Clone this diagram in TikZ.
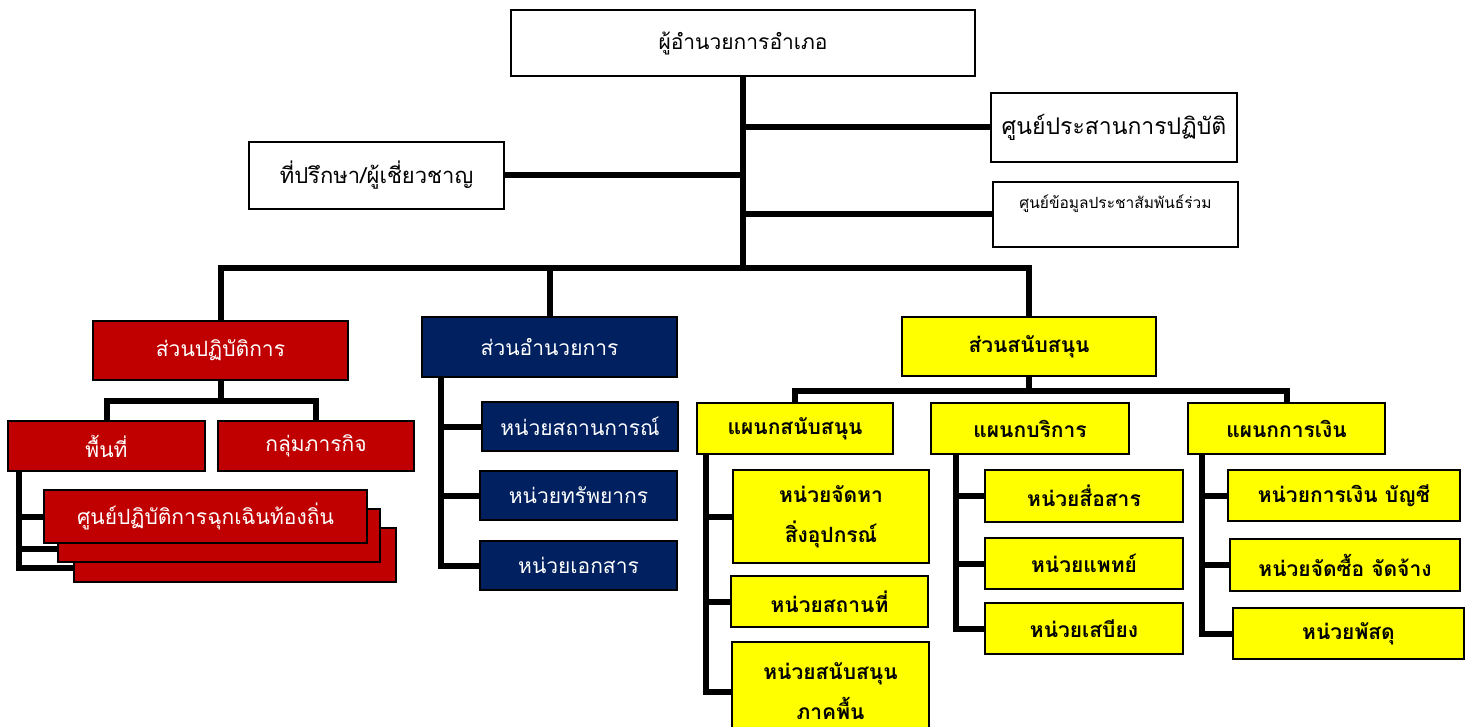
\documentclass[tikz,border=0pt]{standalone}
\usepackage{fontspec}
\newfontfamily\thaifont[Script=Thai]{Loma}
\usetikzlibrary{calc}

\definecolor{opsred}{HTML}{C00000}
\definecolor{adminblue}{HTML}{002060}
\definecolor{suppyellow}{HTML}{FFFF00}

\begin{document}
\begin{tikzpicture}[
        x=1pt, y=-1pt,
        every node/.style={font=\thaifont\fontsize{21}{28}\selectfont},
        box/.style={rectangle, draw, line width=1.6pt, inner sep=2pt, align=center},
        plain/.style={box, fill=white},
        ops/.style={box, fill=opsred, text=white},
        admin/.style={box, fill=adminblue, text=white},
        supp/.style={box, fill=suppyellow, font=\thaifont\bfseries\fontsize{21}{40}\selectfont},
        bus/.style={line width=6pt}
    ]
    \useasboundingbox (0,0) rectangle (1472,727);

    % Director and staff boxes
    \node[plain, minimum width=464, minimum height=66] (director) at (743,43) {ผู้อำนวยการอำเภอ};
    \node[plain, minimum width=246, minimum height=69,
          font=\thaifont\fontsize{23}{28}\selectfont] (coord) at (1114,127.5) {ศูนย์ประสานการปฏิบัติ};
    \node[plain, minimum width=255, minimum height=67,
          font=\thaifont\fontsize{22}{28}\selectfont] (advisor) at (376.5,175.5) {ที่ปรึกษา/ผู้เชี่ยวชาญ};
    \node[plain, minimum width=245, minimum height=65, text depth=26pt,
          font=\thaifont\fontsize{15.5}{18}\selectfont] (info) at (1115.5,214.5) {ศูนย์ข้อมูลประชาสัมพันธ์ร่วม};

    % Three divisions
    \node[ops, minimum width=255, minimum height=59] (opsdiv) at (220.5,350.5) {ส่วนปฏิบัติการ};
    \node[admin, minimum width=255, minimum height=60] (admindiv) at (549.5,347) {ส่วนอำนวยการ};
    \node[supp, minimum width=254, minimum height=59] (suppdiv) at (1029,346.5) {ส่วนสนับสนุน};

    % Operations division
    \node[ops, minimum width=197, minimum height=50] (area) at (106.5,446) {พื้นที่};
    \node[ops, minimum width=196, minimum height=50] (mission) at (316,446) {กลุ่มภารกิจ};
    \node[ops, minimum width=322, minimum height=54] (lframe3) at (235,555) {};
    \node[ops, minimum width=322, minimum height=53] (lframe2) at (219,535.5) {};
    \node[ops, minimum width=323, minimum height=53] (lframe1) at (205.5,516.5) {ศูนย์ปฏิบัติการฉุกเฉินท้องถิ่น};

    % Administration division
    \node[admin, minimum width=196, minimum height=49] (situation) at (580,426.5) {หน่วยสถานการณ์};
    \node[admin, minimum width=197, minimum height=49] (resource) at (578.5,495.5) {หน่วยทรัพยากร};
    \node[admin, minimum width=197, minimum height=49] (document) at (578.5,565.5) {หน่วยเอกสาร};

    % Support division: departments
    \node[supp, minimum width=196, minimum height=51] (suppdept) at (795,428.5) {แผนกสนับสนุน};
    \node[supp, minimum width=198, minimum height=51] (servdept) at (1030,428.5) {แผนกบริการ};
    \node[supp, minimum width=197, minimum height=51] (findept) at (1286.5,428.5) {แผนกการเงิน};

    % Support division: units
    \node[supp, minimum width=196, minimum height=93] (procure) at (831,516.5) {หน่วยจัดหา\\สิ่งอุปกรณ์};
    \node[supp, minimum width=197, minimum height=51] (venue) at (829.5,601.5) {หน่วยสถานที่};
    \node[supp, minimum width=197, minimum height=99] (ground) at (830.5,691.5) {หน่วยสนับสนุน\\ภาคพื้น};
    \node[supp, minimum width=198, minimum height=52] (comm) at (1084,496) {หน่วยสื่อสาร};
    \node[supp, minimum width=198, minimum height=51] (medic) at (1084,563.5) {หน่วยแพทย์};
    \node[supp, minimum width=198, minimum height=51] (ration) at (1084,628.5) {หน่วยเสบียง};
    \node[supp, minimum width=232, minimum height=51] (account) at (1344,495.5) {หน่วยการเงิน บัญชี};
    \node[supp, minimum width=230, minimum height=52] (purchase) at (1345,565) {หน่วยจัดซื้อ จัดจ้าง};
    \node[supp, minimum width=231, minimum height=51] (supply) at (1348.5,633.5) {หน่วยพัสดุ};

    % Director trunk and main bus
    \coordinate (hub) at ($(director.south)+(0,191)$);
    \draw[bus] (director.south) -- (hub);
    \draw[bus] (coord.west) -- (coord.west -| hub);
    \draw[bus] (advisor.east) -- (advisor.east -| hub);
    \draw[bus] (info.west) -- (info.west -| hub);
    \draw[bus] (opsdiv.north) |- (hub);
    \draw[bus] (admindiv.north) |- (hub);
    \draw[bus] (suppdiv.north) |- (hub);

    % Operations links
    \coordinate (opshub) at ($(opsdiv.south)+(0,20)$);
    \draw[bus] (opsdiv.south) -- (opshub);
    \draw[bus] (area.north) |- (opshub);
    \draw[bus] (mission.north) |- (opshub);
    \draw[bus] ([xshift=12pt]area.south west) |- (lframe1.west);
    \draw[bus] ([xshift=12pt]area.south west) |- ($(lframe2.south west)+(0,-14)$);
    \draw[bus] ([xshift=12pt]area.south west) |- ($(lframe3.south west)+(0,-15)$);

    % Administration links
    \foreach \u in {situation, resource, document}
        \draw[bus] ([xshift=20pt]admindiv.south west) |- (\u.west);

    % Support links
    \coordinate (supphub) at ($(suppdiv.south)+(0,14)$);
    \draw[bus] (suppdiv.south) -- (supphub);
    \draw[bus] (suppdept.north) |- (supphub);
    \draw[bus] (findept.north) |- (supphub);
    \foreach \u in {procure, venue, ground}
        \draw[bus] ([xshift=10pt]suppdept.south west) |- (\u.west);
    \foreach \u in {comm, medic, ration}
        \draw[bus] ([xshift=26pt]servdept.south west) |- (\u.west);
    \foreach \u in {account, purchase, supply}
        \draw[bus] ([xshift=15pt]findept.south west) |- (\u.west);

\end{tikzpicture}
\end{document}
